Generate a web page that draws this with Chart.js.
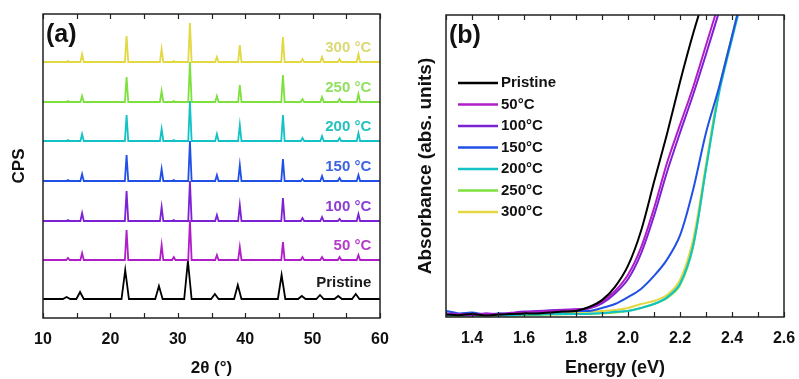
<!DOCTYPE html>
<html>
<head>
<meta charset="utf-8">
<script src="https://cdn.jsdelivr.net/npm/chart.js@4.4.0/dist/chart.umd.min.js"></script>
<style>
  html, body { margin: 0; padding: 0; background: #fff; }
  #wrap { position: relative; width: 799px; height: 379px; }
  #xrd { position: absolute; left: 0; top: 0; }
  #abs { position: absolute; left: 400px; top: 0; }
</style>
</head>
<body>
<div id="wrap">
  <canvas id="xrd" width="400" height="379"></canvas>
  <canvas id="abs" width="399" height="379"></canvas>
</div>
<script>
'use strict'

// ---------- panel (a): XRD patterns ----------
var xrdLabels = ['Pristine', '50 °C', '100 °C', '150 °C', '200 °C', '250 °C', '300 °C'];
var absLabels = ['Pristine', '50°C', '100°C', '150°C', '200°C', '250°C', '300°C'];
var lineColors = ['#000000', '#b01ec8', '#7c22d4', '#2050e6', '#12c2c6', '#7ee03e', '#e2d842'];
var textColors = ['#1a1a1a', '#b43cc8', '#8a3cd4', '#3a64e0', '#22c0c0', '#90e060', '#dcd874'];

// vertical offset of each pattern (arbitrary CPS units)
var baseline = [19, 58, 97, 137, 177, 216, 256];

var pristinePeaks   = [13.5, 15.5, 22.2, 27.2, 31.5, 35.5, 38.9, 45.4, 48.4, 51.1, 53.8, 56.4];
var pristineHeights = [2, 7, 29, 13, 38, 5, 14, 24, 3, 4, 3, 5];

var annealPeaks = [13.7, 15.8, 22.4, 27.6, 29.4, 31.8, 35.8, 39.2, 45.6, 48.5, 51.4, 54.0, 56.8];
var h50  = [2, 7, 30, 15, 3, 40, 5, 13, 18, 3, 3, 3, 5];
var h100 = [1, 8, 30, 14, 1, 40, 6, 16, 23, 3, 4, 2, 7];
var h150 = [1, 7, 26, 12, 1, 40, 6, 16, 22, 2, 5, 3, 6];
var h200 = [1, 7, 26, 12, 1, 40, 7, 16, 26, 3, 5, 3, 8];
var h250 = [1, 6, 25, 11, 1, 40, 6, 17, 27, 3, 5, 3, 8];
var h300 = [1, 8, 26, 13, 1, 39, 5, 17, 25, 3, 5, 3, 8];

// ---------- panel (b): absorbance ----------
var energy = [1.30, 1.35, 1.40, 1.45, 1.50, 1.55, 1.60, 1.65, 1.70, 1.75, 1.80, 1.85, 1.90,
              1.95, 2.00, 2.05, 2.10, 2.15, 2.20, 2.25, 2.30, 2.35, 2.40, 2.45, 2.50];
var absPristine = [0.008, 0.006, 0.010, 0.005, 0.008, 0.010, 0.012, 0.012, 0.015, 0.018, 0.020, 0.033, 0.056,
                   0.100, 0.170, 0.285, 0.447, 0.606, 0.778, 0.937, 1.076, 1.20, 1.30, 1.40, 1.50];
var abs50  = [0.010, 0.008, 0.006, 0.010, 0.008, 0.012, 0.015, 0.018, 0.020, 0.022, 0.025, 0.030, 0.050,
              0.086, 0.140, 0.230, 0.360, 0.510, 0.636, 0.760, 0.900, 1.040, 1.180, 1.30, 1.40];
var abs100 = [0.012, 0.010, 0.008, 0.012, 0.010, 0.014, 0.018, 0.020, 0.022, 0.024, 0.026, 0.028, 0.045,
              0.078, 0.125, 0.210, 0.335, 0.480, 0.610, 0.735, 0.870, 1.010, 1.150, 1.28, 1.38];
var abs150 = [0.020, 0.012, 0.015, 0.008, 0.012, 0.010, 0.012, 0.014, 0.016, 0.018, 0.020, 0.020, 0.030,
              0.043, 0.066, 0.093, 0.136, 0.190, 0.270, 0.420, 0.610, 0.760, 0.930, 1.100, 1.25];
var abs200 = [0.006, 0.005, 0.004, 0.006, 0.005, 0.006, 0.008, 0.008, 0.010, 0.010, 0.010, 0.011, 0.013,
              0.017, 0.020, 0.030, 0.043, 0.065, 0.110, 0.235, 0.490, 0.740, 0.920, 1.090, 1.25];
var abs250 = [0.005, 0.004, 0.005, 0.004, 0.006, 0.005, 0.006, 0.007, 0.008, 0.009, 0.010, 0.010, 0.012,
              0.015, 0.020, 0.030, 0.043, 0.062, 0.105, 0.230, 0.495, 0.750, 0.930, 1.100, 1.25];
var abs300 = [0.006, 0.005, 0.006, 0.005, 0.007, 0.008, 0.009, 0.011, 0.013, 0.015, 0.016, 0.017, 0.020,
              0.023, 0.030, 0.043, 0.053, 0.073, 0.123, 0.255, 0.505, 0.755, 0.930, 1.100, 1.25];

var FONT = '"Liberation Sans", Arial, sans-serif';
Chart.defaults.font.family = FONT;
Chart.defaults.color = '#111';

function pattern(peaks, heights, base, halfWidth) {
  var pts = [{x: 10, y: base}];
  peaks.forEach(function(p, i) {
    pts.push({x: p - halfWidth, y: base});
    pts.push({x: p, y: base + heights[i]});
    pts.push({x: p + halfWidth, y: base});
  });
  pts.push({x: 60, y: base});
  return pts;
}

// frame + inward ticks on top and bottom
var frameTicks = {
  id: 'frameTicks',
  afterDraw: function(chart, args, opts) {
    var ctx = chart.ctx, a = chart.chartArea, xs = chart.scales.x;
    ctx.save();
    ctx.strokeStyle = '#222';
    ctx.lineWidth = 1.5;
    ctx.strokeRect(a.left, a.top, a.right - a.left, a.bottom - a.top);
    ctx.lineWidth = 1.2;
    var n = Math.round((xs.max - xs.min) / opts.step);
    for (var i = 0; i <= n; i++) {
      var px = Math.round(xs.getPixelForValue(xs.min + i * opts.step)) + 0.5;
      ctx.beginPath();
      ctx.moveTo(px, a.bottom); ctx.lineTo(px, a.bottom - opts.len);
      ctx.moveTo(px, a.top); ctx.lineTo(px, a.top + opts.len);
      ctx.stroke();
    }
    ctx.font = 'bold 25px ' + FONT;
    ctx.fillStyle = '#111';
    ctx.textBaseline = 'middle';
    ctx.fillText(opts.panel, a.left + 3, a.top + 21);
    ctx.restore();
  }
};

var seriesTags = {
  id: 'seriesTags',
  afterDraw: function(chart) {
    var ctx = chart.ctx, xs = chart.scales.x, ys = chart.scales.y;
    ctx.save();
    ctx.font = 'bold 15px ' + FONT;
    ctx.textAlign = 'right';
    ctx.textBaseline = 'middle';
    xrdLabels.forEach(function(t, i) {
      ctx.fillStyle = textColors[i];
      ctx.fillText(t, xs.getPixelForValue(58.7), ys.getPixelForValue(baseline[i] + (i === 0 ? 16 : 14.5)));
    });
    ctx.restore();
  }
};

var lineKey = {
  id: 'lineKey',
  afterDraw: function(chart) {
    var ctx = chart.ctx, a = chart.chartArea;
    ctx.save();
    ctx.font = 'bold 15px ' + FONT;
    ctx.textBaseline = 'middle';
    chart.data.datasets.forEach(function(ds, i) {
      var y = a.top + 68 + i * 21.5;
      ctx.strokeStyle = ds.borderColor;
      ctx.lineWidth = 2.5;
      ctx.beginPath();
      ctx.moveTo(a.left + 12, y);
      ctx.lineTo(a.left + 52, y);
      ctx.stroke();
      ctx.fillStyle = '#111';
      ctx.fillText(ds.label, a.left + 55, y);
    });
    ctx.restore();
  }
};

function noSidePadding(s, h) {
  s.height = h;
  s.paddingLeft = 0;
  s.paddingRight = 0;
}

var xrdHeights = [pristineHeights, h50, h100, h150, h200, h250, h300];
var xrdSets = xrdHeights.map(function(h, i) {
  return {
    label: xrdLabels[i],
    data: i === 0 ? pattern(pristinePeaks, h, baseline[i], 0.55) : pattern(annealPeaks, h, baseline[i], 0.25),
    borderColor: lineColors[i],
    borderWidth: 1.8
  };
});

new Chart(document.getElementById('xrd'), {
  type: 'line',
  data: { datasets: xrdSets },
  options: {
    responsive: false,
    animation: false,
    devicePixelRatio: 1,
    layout: { padding: { top: 14, right: 20, left: 0, bottom: 0 } },
    elements: { point: { radius: 0 }, line: { tension: 0 } },
    plugins: { legend: { display: false }, tooltip: { enabled: false }, frameTicks: { step: 5, len: 5, panel: '(a)' } },
    scales: {
      x: {
        type: 'linear', min: 10, max: 60,
        afterFit: function(s) { noSidePadding(s, 61); },
        border: { display: false },
        grid: { display: false },
        ticks: { stepSize: 10, padding: 4, color: '#111', font: { size: 16, weight: 'bold' } },
        title: { display: true, text: '2θ (°)', color: '#111', font: { size: 17, weight: 'bold' }, padding: { top: 0, bottom: 0 } }
      },
      y: {
        type: 'linear', min: 0, max: 304,
        afterFit: function(s) { s.width = 43; },
        border: { display: false },
        grid: { display: false },
        ticks: { display: false },
        title: { display: true, text: 'CPS', color: '#111', font: { size: 17, weight: 'bold' }, padding: { top: 9, bottom: 0 } }
      }
    }
  },
  plugins: [frameTicks, seriesTags]
});

var absValues = [absPristine, abs50, abs100, abs150, abs200, abs250, abs300];
var absSets = absValues.map(function(v, i) {
  return {
    label: absLabels[i],
    data: energy.map(function(e, j) { return {x: e, y: v[j]}; }),
    borderColor: lineColors[i],
    borderWidth: 2
  };
});

new Chart(document.getElementById('abs'), {
  type: 'line',
  data: { datasets: absSets },
  options: {
    responsive: false,
    animation: false,
    devicePixelRatio: 1,
    layout: { padding: { top: 15, right: 15, left: 0, bottom: 0 } },
    elements: { point: { radius: 0 }, line: { tension: 0.3 } },
    plugins: { legend: { display: false }, tooltip: { enabled: false }, frameTicks: { step: 0.1, len: 5, panel: '(b)' } },
    scales: {
      x: {
        type: 'linear', min: 1.3, max: 2.6,
        afterFit: function(s) { noSidePadding(s, 62); },
        border: { display: false },
        grid: { display: false },
        ticks: {
          stepSize: 0.1, autoSkip: false, maxRotation: 0, padding: 4, color: '#111',
          font: { size: 16, weight: 'bold' },
          callback: function(v) { return Math.round(v * 10) % 2 === 0 ? v.toFixed(1) : ''; }
        },
        title: { display: true, text: 'Energy (eV)', color: '#111', font: { size: 18, weight: 'bold' }, padding: { top: 0, bottom: 0 } }
      },
      y: {
        type: 'linear', min: 0, max: 1,
        afterFit: function(s) { s.width = 46; },
        border: { display: false },
        grid: { display: false },
        ticks: { display: false },
        title: { display: true, text: 'Absorbance (abs. units)', color: '#111', font: { size: 19, weight: 'bold' }, padding: { top: 14, bottom: 0 } }
      }
    }
  },
  plugins: [frameTicks, lineKey]
});
</script>
</body>
</html>
